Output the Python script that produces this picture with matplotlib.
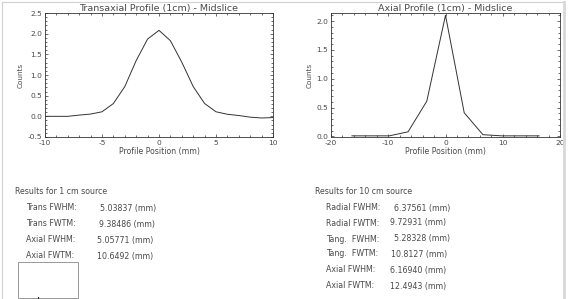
import numpy as np
import matplotlib
matplotlib.use('agg')
import matplotlib.pyplot as plt
from matplotlib.lines import Line2D
from matplotlib.patches import Rectangle
from matplotlib.ticker import MultipleLocator

W, H = 568, 299
TEXT_COLOR = '#4a4a4a'
LINE_COLOR = '#333333'
TICK_SIZE = 5.4
LABEL_SIZE = 5.6
TITLE_SIZE = 6.8
RESULT_SIZE = 5.7

# transaxial profile, 1 mm steps
trans_pos = [-10, -9, -8, -7, -6, -5, -4, -3, -2, -1, 0, 1, 2, 3, 4, 5, 6, 7, 8, 9, 10]
trans_counts = [0.0, 0.0, 0.0, 0.03, 0.055, 0.11, 0.31, 0.72, 1.35, 1.87, 2.08,
                1.83, 1.31, 0.72, 0.31, 0.11, 0.05, 0.02, -0.02, -0.04, -0.03]

# axial profile, one point per slice
axial_pos = [-16.35, -13.08, -9.81, -6.54, -3.27, 0.0, 3.27, 6.54, 9.81, 13.08, 16.35]
axial_counts = [0.01, 0.01, 0.01, 0.08, 0.61, 2.1, 0.41, 0.03, 0.01, 0.01, 0.01]

left_title = 'Results for 1 cm source'
left_names = ['Trans FWHM:', 'Trans FWTM:', 'Axial FWHM:', 'Axial FWTM:']
left_values = ['5.03837 (mm)', '9.38486 (mm)', '5.05771 (mm)', '10.6492 (mm)']

right_title = 'Results for 10 cm source'
right_names = ['Radial FWHM:', 'Radial FWTM:', 'Tang.  FWHM:', 'Tang.  FWTM:',
               'Axial FWHM:', 'Axial FWTM:']
right_values = ['6.37561 (mm)', '9.72931 (mm)', '5.28328 (mm)', '10.8127 (mm)',
                '6.16940 (mm)', '12.4943 (mm)']

plt.rcParams['axes.unicode_minus'] = False
plt.rcParams['font.family'] = 'DejaVu Sans'


def px(x, y):
    # pixel position (from top-left) -> figure fraction
    return x / W, 1 - y / H


def styleAxes(ax, xmajor, xminor, ymajor, yminor):
    ax.xaxis.set_major_locator(MultipleLocator(xmajor))
    ax.xaxis.set_minor_locator(MultipleLocator(xminor))
    ax.yaxis.set_major_locator(MultipleLocator(ymajor))
    ax.yaxis.set_minor_locator(MultipleLocator(yminor))
    ax.tick_params(which='both', direction='in', top=True, right=True,
                   colors=LINE_COLOR, labelcolor=TEXT_COLOR, labelsize=TICK_SIZE, width=0.5, pad=2)
    ax.tick_params(which='major', length=2.5)
    ax.tick_params(which='minor', length=1.3)
    for s in ax.spines.values():
        s.set_linewidth(0.6)
        s.set_color(LINE_COLOR)
    ax.set_ylabel('Counts', fontsize=LABEL_SIZE - 0.4, color=TEXT_COLOR, labelpad=3)
    ax.set_xlabel('Profile Position (mm)', fontsize=LABEL_SIZE, color=TEXT_COLOR, labelpad=1)


fig = plt.figure(figsize=(W / 100.0, H / 100.0), dpi=100)

ax1 = fig.add_axes([45 / W, 1 - 137 / H, 228 / W, 124 / H])
ax1.plot(trans_pos, trans_counts, color=LINE_COLOR, lw=0.7)
ax1.set_xlim(-10, 10)
ax1.set_ylim(-0.5, 2.5)
styleAxes(ax1, 5, 1, 0.5, 0.1)
ax1.set_title('Transaxial Profile (1cm) - Midslice', fontsize=TITLE_SIZE, color=TEXT_COLOR, pad=1.5)

ax2 = fig.add_axes([331 / W, 1 - 137 / H, 229 / W, 124 / H])
ax2.plot(axial_pos, axial_counts, color=LINE_COLOR, lw=0.7)
ax2.set_xlim(-20, 20)
ax2.set_ylim(-0.01, 2.14)
styleAxes(ax2, 10, 2, 0.5, 0.1)
ax2.set_title('Axial Profile (1cm) - Midslice', fontsize=TITLE_SIZE, color=TEXT_COLOR, pad=1.5)

# results text
fig.text(*px(15, 192), left_title, fontsize=RESULT_SIZE, color=TEXT_COLOR, va='center')
rowsY = [208, 224, 240, 256]
valX = [100, 99, 97, 97]
for i in range(len(left_names)):
    fig.text(*px(26, rowsY[i]), left_names[i], fontsize=RESULT_SIZE, color=TEXT_COLOR, va='center')
    fig.text(*px(valX[i], rowsY[i]), left_values[i], fontsize=RESULT_SIZE, color=TEXT_COLOR, va='center')

fig.text(*px(315, 192), right_title, fontsize=RESULT_SIZE, color=TEXT_COLOR, va='center')
rowsY = [208, 223, 239, 254, 270, 286]
valX = [394, 390, 394, 391, 390, 390]
for i in range(len(right_names)):
    fig.text(*px(326, rowsY[i]), right_names[i], fontsize=RESULT_SIZE, color=TEXT_COLOR, va='center')
    fig.text(*px(valX[i], rowsY[i]), right_values[i], fontsize=RESULT_SIZE, color=TEXT_COLOR, va='center')

# empty box at the bottom left
x0, y0 = px(18, 298)
x1, y1 = px(78, 262)
fig.patches.append(Rectangle((x0, y0), x1 - x0, y1 - y0, transform=fig.transFigure,
                             fill=False, edgecolor='#888888', lw=0.6))
fig.lines.append(Line2D([38 / W, 38 / W], [0, 2 / H], transform=fig.transFigure,
                        color='#222222', lw=0.8))

# window frame
fig.lines.append(Line2D([2 / W, 2 / W], [0, 1 - 2 / H], transform=fig.transFigure,
                        color='#d0d0d0', lw=0.8))
fig.lines.append(Line2D([2 / W, 564 / W], [1 - 2 / H, 1 - 2 / H], transform=fig.transFigure,
                        color='#d0d0d0', lw=0.8))
fig.lines.append(Line2D([564 / W, 564 / W], [0, 1 - 2 / H], transform=fig.transFigure,
                        color='#d8d8d8', lw=2))

plt.savefig('out.png', dpi=100)
